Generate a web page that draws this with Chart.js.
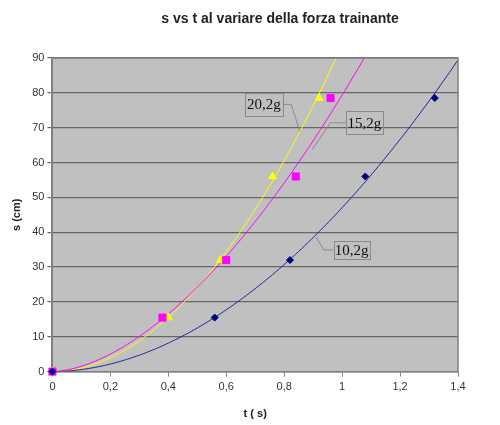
<!DOCTYPE html>
<html>
<head>
<meta charset="utf-8">
<script src="https://cdn.jsdelivr.net/npm/chart.js@4.4.0/dist/chart.umd.min.js"></script>
<style>
  html, body { margin: 0; padding: 0; background: #ffffff; }
  #wrap { width: 500px; height: 425px; }
</style>
</head>
<body>
<div id="wrap"><canvas id="c" width="500" height="425"></canvas></div>
<script>
// ---- Data ----
const chartTitle = "s vs t al variare della forza trainante";
const xTitle = "t ( s)";
const yTitle = "s (cm)";

const seriesNames = ["10,2g", "15,2g", "20,2g"];
const t10 = [0, 0.56, 0.82, 1.08, 1.32];
const s10 = [0, 15.5, 32, 56, 78.5];
const t15 = [0, 0.38, 0.60, 0.84, 0.96];
const s15 = [0, 15.5, 32, 56, 78.5];
const t20 = [0, 0.40, 0.58, 0.76, 0.92];
const s20 = [0, 15.5, 32, 56, 78.5];

const xTickLabels = ["0", "0,2", "0,4", "0,6", "0,8", "1", "1,2", "1,4"];
const yTickLabels = ["0", "10", "20", "30", "40", "50", "60", "70", "80", "90"];

// label boxes (data units): [left, top, right, bottom], leader path points
const labelBox10 = [0.971, 37.6, 1.094, 32.3];
const labelLeader10 = [[0.971, 34.9], [0.937, 34.9], [0.911, 38.5]];
const labelBox15 = [1.012, 74.7, 1.141, 68.1];
const labelLeader15 = [[1.012, 71.4], [0.960, 71.4], [0.897, 63.8]];
const labelBox20 = [0.664, 80.0, 0.796, 73.3];
const labelLeader20 = [[0.796, 76.7], [0.824, 76.7], [0.854, 69.0]];

// ---- power-law trendline s = A * t^n (least squares on log-log, positive points) ----
function powerFit(xs, ys) {
  const lx = [], ly = [];
  xs.forEach((x, i) => { if (x > 0 && ys[i] > 0) { lx.push(Math.log(x)); ly.push(Math.log(ys[i])); } });
  const m = lx.length;
  const mx = lx.reduce((a, b) => a + b, 0) / m, my = ly.reduce((a, b) => a + b, 0) / m;
  let sxy = 0, sxx = 0;
  for (let i = 0; i < m; i++) { sxy += (lx[i] - mx) * (ly[i] - my); sxx += (lx[i] - mx) ** 2; }
  const n = sxy / sxx;
  return [Math.exp(my - n * mx), n];
}
function trend(xs, ys) {
  const [A, n] = powerFit(xs, ys);
  const pts = [];
  for (let i = 0; i <= 280; i++) {
    const x = i / 200;
    pts.push({x: x, y: x === 0 ? 0 : A * Math.pow(x, n)});
  }
  return pts;
}
const toPts = (xs, ys) => xs.map((x, i) => ({x: x, y: ys[i]}));

const NAVY = '#000080', MAG = '#ff00ff', YEL = '#ffff00';

const bgPlugin = {
  id: 'bg',
  beforeDraw(chart) {
    const {ctx, chartArea: a} = chart;
    ctx.save();
    ctx.fillStyle = '#c0c0c0';
    ctx.fillRect(a.left, a.top, a.right - a.left, a.bottom - a.top);
    ctx.restore();
  },
  afterDraw(chart) {
    const {ctx, chartArea: a, scales} = chart;
    const X = v => scales.x.getPixelForValue(v), Y = v => scales.y.getPixelForValue(v);
    ctx.save();
    // title
    ctx.fillStyle = '#222';
    ctx.font = 'bold 14px "Liberation Sans", Arial, sans-serif';
    ctx.textAlign = 'center';
    ctx.textBaseline = 'middle';
    ctx.fillText(chartTitle, 280, 19);
    // plot frame top/right
    ctx.strokeStyle = '#808080';
    ctx.lineWidth = 1.5;
    ctx.beginPath();
    ctx.moveTo(a.left, a.top); ctx.lineTo(a.right, a.top); ctx.lineTo(a.right, a.bottom);
    ctx.stroke();
    // label boxes
    const boxes = [[labelBox10, labelLeader10, seriesNames[0]],
                   [labelBox15, labelLeader15, seriesNames[1]],
                   [labelBox20, labelLeader20, seriesNames[2]]];
    for (const [b, lead, txt] of boxes) {
      ctx.strokeStyle = '#8a8a8a';
      ctx.lineWidth = 1;
      ctx.beginPath();
      lead.forEach((p, i) => { const px = X(p[0]), py = Y(p[1]); if (i) ctx.lineTo(px, py); else ctx.moveTo(px, py); });
      ctx.stroke();
      const l = X(b[0]), t = Y(b[1]), r = X(b[2]), bt = Y(b[3]);
      ctx.strokeRect(Math.round(l)+0.5, Math.round(t)+0.5, Math.round(r-l), Math.round(bt-t));
      ctx.fillStyle = '#111';
      ctx.font = '15px "Liberation Serif", "Times New Roman", serif';
      ctx.textAlign = 'center';
      ctx.textBaseline = 'middle';
      ctx.fillText(txt, (l + r) / 2, (t + bt) / 2 + 1);
    }
    ctx.restore();
  }
};

new Chart(document.getElementById('c'), {
  type: 'scatter',
  data: {
    datasets: [
      {label: seriesNames[0], data: toPts(t10, s10), pointStyle: 'rectRot', pointRadius: 3.5,
       backgroundColor: NAVY, borderColor: NAVY, borderWidth: 1, showLine: false, clip: false},
      {label: seriesNames[1], data: toPts(t15, s15), pointStyle: 'rect', pointRadius: 5,
       backgroundColor: MAG, borderColor: MAG, borderWidth: 1, showLine: false, clip: false},
      {label: seriesNames[2], data: toPts(t20, s20), pointStyle: 'triangle', pointRadius: 4.5,
       backgroundColor: YEL, borderColor: YEL, borderWidth: 1, showLine: false, clip: false},
      {label: 'trend ' + seriesNames[0], data: trend(t10, s10), showLine: true, pointRadius: 0,
       borderColor: '#202090', borderWidth: 1, tension: 0},
      {label: 'trend ' + seriesNames[1], data: trend(t15, s15), showLine: true, pointRadius: 0,
       borderColor: MAG, borderWidth: 1, tension: 0},
      {label: 'trend ' + seriesNames[2], data: trend(t20, s20), showLine: true, pointRadius: 0,
       borderColor: YEL, borderWidth: 1, tension: 0}
    ]
  },
  options: {
    responsive: false,
    animation: false,
    devicePixelRatio: 1,
    layout: {padding: {top: 58, right: 42, left: 6, bottom: 0}},
    plugins: {legend: {display: false}, title: {display: false}, tooltip: {enabled: false}},
    scales: {
      x: {
        type: 'linear', min: 0, max: 1.4,
        ticks: {stepSize: 0.2, color: '#333', font: {size: 11, family: '"Liberation Sans", Arial, sans-serif'},
                padding: 4, maxRotation: 0,
                callback: (v) => xTickLabels[Math.round(v / 0.2)]},
        grid: {drawOnChartArea: false, drawTicks: true, tickLength: 5, color: '#808080'},
        border: {color: '#808080', width: 1.5},
        title: {display: true, text: xTitle, color: '#222',
                font: {size: 11, weight: 'bold', family: '"Liberation Sans", Arial, sans-serif'}, padding: {top: 10}}
      },
      y: {
        type: 'linear', min: 0, max: 90,
        ticks: {stepSize: 10, color: '#333', font: {size: 11, family: '"Liberation Sans", Arial, sans-serif'},
                padding: 3, callback: (v) => yTickLabels[Math.round(v / 10)]},
        grid: {color: '#666666', lineWidth: 1.2, tickLength: 5},
        border: {color: '#808080', width: 2},
        title: {display: true, text: yTitle, color: '#222',
                font: {size: 11, weight: 'bold', family: '"Liberation Sans", Arial, sans-serif'}, padding: {bottom: 6}}
      }
    }
  },
  plugins: [bgPlugin]
});
</script>
</body>
</html>
